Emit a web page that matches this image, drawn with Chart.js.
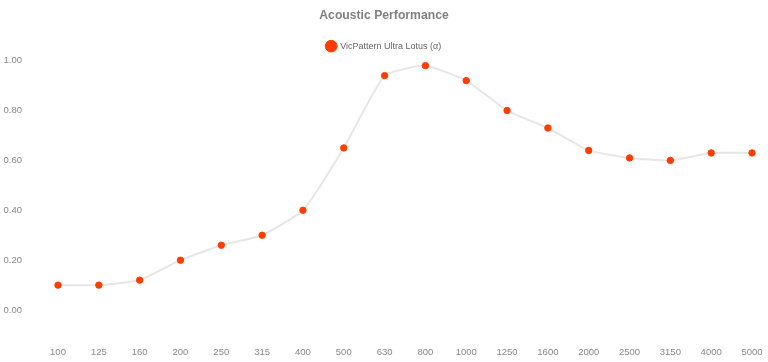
<!DOCTYPE html>
<html>
<head>
<meta charset="utf-8">
<script src="https://cdn.jsdelivr.net/npm/chart.js@4/dist/chart.umd.min.js"></script>
<style>
html,body{margin:0;padding:0;background:#fff;}
#wrap{width:768px;height:362px;position:relative;}
</style>
</head>
<body>
<div id="wrap"><canvas id="c"></canvas></div>
<script>
const categories = ['100','125','160','200','250','315','400','500','630','800','1000','1250','1600','2000','2500','3150','4000','5000'];
const seriesName = 'VicPattern Ultra Lotus (\u03b1)';
const absorption = [0.10,0.10,0.12,0.20,0.26,0.30,0.40,0.65,0.94,0.98,0.92,0.80,0.73,0.64,0.61,0.60,0.63,0.63];
const yTicks = [0,0.2,0.4,0.6,0.8,1.0];
const yMin = -0.12, yMax = 1.0;

const font = "'Liberation Sans', Arial, sans-serif";
new Chart(document.getElementById('c'), {
  type: 'line',
  data: {
    labels: categories,
    datasets: [{
      label: seriesName,
      data: absorption,
      borderColor: '#e6e6e6',
      borderWidth: 2,
      pointBackgroundColor: '#ff3d00',
      pointBorderColor: '#ff3d00',
      pointBorderWidth: 1,
      pointRadius: 3.2,
      pointHoverRadius: 4,
      tension: 0.15,
      fill: false
    }]
  },
  options: {
    responsive: true,
    maintainAspectRatio: false,
    animation: false,
    layout: {padding: 0},
    plugins: {
      title: {
        display: true,
        text: 'Acoustic Performance',
        color: '#808080',
        font: {family: font, size: 12.2, weight: 'bold'},
        padding: {top: 8, bottom: 9}
      },
      legend: {
        display: true,
        labels: {
          usePointStyle: true,
          pointStyle: 'circle',
          boxHeight: 8.3,
          padding: 10,
          color: '#666',
          font: {family: font, size: 9}
        }
      },
      tooltip: {enabled: false}
    },
    scales: {
      x: {
        grid: {display: false, drawTicks: false},
        border: {display: false},
        afterFit: s => { s.height = 22; s.paddingRight = 16; },
        ticks: {color: '#888', font: {family: font, size: 9.5}, padding: 7, maxRotation: 0, autoSkip: false}
      },
      y: {
        min: yMin,
        max: yMax,
        grid: {display: false, drawTicks: false},
        border: {display: false},
        afterBuildTicks: s => { s.ticks = yTicks.map(v => ({value: v})); s.min = yMin; s.max = yMax; },
        afterFit: s => { s.width = 58; s.paddingTop = 0; s.paddingBottom = 0; },
        ticks: {
          color: '#888',
          padding: 36,
          font: {family: font, size: 9.5},
          callback: v => Number(v).toFixed(2)
        }
      }
    }
  }
});
</script>
</body>
</html>
